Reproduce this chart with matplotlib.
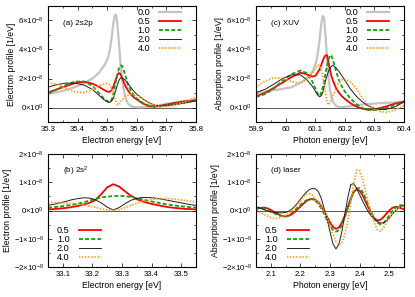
import numpy as np
import matplotlib
matplotlib.use('Agg')
import matplotlib.pyplot as plt
from matplotlib.ticker import MultipleLocator, AutoMinorLocator, FuncFormatter

plt.rcParams['font.family'] = ['Liberation Sans', 'DejaVu Sans']
plt.rcParams['mathtext.fontset'] = 'custom'
plt.rcParams['mathtext.rm'] = 'Liberation Sans'
plt.rcParams['mathtext.it'] = 'Liberation Sans:italic'
plt.rcParams['font.size'] = 5.5

# all profiles in units of 1e-8 1/eV
labels_top = ['0.0', '0.5', '1.0', '2.0', '4.0']
labels_bot = ['0.5', '1.0', '2.0', '4.0']

# (a) 2s2p electron profile
a_x = [35.30, 35.33, 35.36, 35.39, 35.42, 35.45, 35.47, 35.49, 35.50, 35.505, 35.51, 35.515,
       35.52, 35.525, 35.53, 35.535, 35.54, 35.545, 35.55, 35.555, 35.56, 35.565, 35.57, 35.58,
       35.59, 35.60, 35.62, 35.64, 35.66, 35.68, 35.70, 35.73, 35.76, 35.80]
a_00 = [0.95, 1.05, 1.2, 1.4, 1.65, 2.0, 2.35, 2.9, 3.3, 3.6, 4.1, 4.8,
        5.7, 6.3, 6.4, 5.6, 4.4, 3.0, 2.0, 1.35, 0.85, 0.5, 0.28, 0.1,
        0.04, 0.02, 0.02, 0.05, 0.1, 0.17, 0.25, 0.35, 0.45, 0.55]
a_05 = [1.03, 1.25, 1.47, 1.68, 1.78, 1.65, 1.45, 1.2, 1.1, 1.08, 1.1, 1.2,
        1.4, 1.7, 2.0, 2.25, 2.38, 2.3, 2.05, 1.8, 1.55, 1.35, 1.18, 0.9,
        0.7, 0.55, 0.28, 0.1, 0.06, 0.12, 0.2, 0.32, 0.42, 0.5]
a_10 = [0.96, 1.25, 1.55, 1.78, 1.8, 1.5, 1.05, 0.58, 0.45, 0.39, 0.38, 0.55,
        0.85, 1.35, 1.9, 2.35, 2.7, 2.9, 2.88, 2.6, 2.3, 1.95, 1.6, 1.15,
        0.85, 0.62, 0.32, 0.14, 0.05, 0.08, 0.15, 0.25, 0.36, 0.5]
a_20 = [1.41, 1.58, 1.68, 1.68, 1.56, 1.25, 0.88, 0.52, 0.4, 0.35, 0.36, 0.45,
        0.62, 0.9, 1.25, 1.6, 1.88, 2.03, 2.05, 1.98, 1.9, 1.8, 1.65, 1.38,
        1.12, 0.92, 0.6, 0.33, 0.16, 0.1, 0.12, 0.2, 0.3, 0.45]
a_40 = [1.72, 1.6, 1.32, 1.08, 1.03, 1.25, 1.48, 1.63, 1.67, 1.62, 1.5, 1.32,
        1.05, 0.73, 0.42, 0.18, 0.2, 0.38, 0.52, 0.63, 0.73, 0.8, 0.85, 0.9,
        0.9, 0.85, 0.6, 0.35, 0.16, 0.06, 0.07, 0.19, 0.35, 0.7]

# (c) XUV absorption profile
c_x = [59.90, 59.93, 59.96, 59.99, 60.02, 60.05, 60.07, 60.09, 60.10, 60.105, 60.11, 60.115,
       60.12, 60.125, 60.13, 60.135, 60.14, 60.145, 60.15, 60.155, 60.16, 60.17, 60.18, 60.19,
       60.20, 60.22, 60.24, 60.26, 60.28, 60.30, 60.32, 60.34, 60.37, 60.40]
c_00 = [1.03, 1.1, 1.2, 1.28, 1.4, 1.7, 2.0, 2.45, 2.9, 3.3, 3.9, 4.7,
        5.7, 6.3, 6.2, 4.9, 3.4, 2.1, 1.2, 0.75, 0.4, 0.12, 0.04, 0.03,
        0.05, 0.1, 0.15, 0.2, 0.24, 0.27, 0.3, 0.32, 0.35, 0.38]
c_05 = [0.78, 1.0, 1.35, 1.72, 2.1, 2.4, 2.3, 2.13, 2.18, 2.3, 2.48, 2.65,
        2.9, 3.2, 3.45, 3.6, 3.6, 3.1, 2.6, 2.15, 1.85, 1.35, 1.03, 0.78,
        0.6, 0.28, 0.06, -0.09, -0.15, -0.13, -0.03, 0.08, 0.27, 0.42]
c_10 = [0.73, 0.92, 1.3, 1.85, 2.3, 2.55, 2.38, 1.8, 1.35, 1.1, 0.88, 0.8,
        1.0, 1.35, 1.8, 2.35, 2.9, 3.3, 3.62, 3.55, 3.25, 2.55, 1.9, 1.45,
        1.1, 0.6, 0.22, -0.05, -0.17, -0.18, -0.12, -0.02, 0.18, 0.42]
c_20 = [1.03, 1.25, 1.6, 2.0, 2.25, 2.25, 1.95, 1.48, 1.15, 0.95, 0.82, 0.74,
        0.8, 1.0, 1.4, 1.85, 2.2, 2.5, 2.7, 2.85, 2.9, 2.75, 2.5, 2.2,
        1.88, 1.25, 0.75, 0.38, 0.1, -0.05, -0.15, -0.13, 0.05, 0.38]
c_40 = [1.37, 1.82, 2.05, 2.02, 1.78, 1.67, 1.9, 2.35, 2.65, 2.82, 2.92, 2.9,
        2.6, 2.2, 1.6, 0.95, 0.35, 0.18, 0.35, 0.6, 0.85, 1.3, 1.72, 1.92,
        1.98, 1.75, 1.28, 0.62, 0.18, -0.12, -0.28, -0.33, -0.18, 0.14]

# (b) 2s^2 electron profile
b_x = [33.05, 33.07, 33.09, 33.11, 33.13, 33.15, 33.17, 33.19, 33.21, 33.23, 33.25, 33.27, 33.29,
       33.31, 33.33, 33.35, 33.37, 33.39, 33.41, 33.43, 33.45, 33.47, 33.49, 33.51, 33.53, 33.55]
b_05 = [0.04, 0.05, 0.07, 0.09, 0.12, 0.16, 0.21, 0.27, 0.37, 0.58, 0.82, 0.93, 0.85,
        0.68, 0.52, 0.4, 0.32, 0.26, 0.21, 0.17, 0.13, 0.1, 0.08, 0.06, 0.05, 0.04]
b_10 = [0.1, 0.12, 0.14, 0.17, 0.2, 0.24, 0.29, 0.35, 0.41, 0.46, 0.49, 0.51, 0.52,
        0.51, 0.48, 0.44, 0.39, 0.34, 0.3, 0.26, 0.22, 0.19, 0.16, 0.14, 0.12, 0.1]
b_20 = [0.18, 0.22, 0.27, 0.32, 0.38, 0.42, 0.45, 0.44, 0.38, 0.27, 0.12, 0.02, 0.1,
        0.24, 0.36, 0.43, 0.46, 0.46, 0.44, 0.41, 0.37, 0.33, 0.29, 0.25, 0.21, 0.18]
b_40 = [0.28, 0.28, 0.28, 0.27, 0.25, 0.23, 0.2, 0.16, 0.11, 0.06, 0.02, 0.0, 0.03,
        0.1, 0.18, 0.26, 0.33, 0.38, 0.41, 0.42, 0.42, 0.41, 0.39, 0.36, 0.33, 0.3]

# (d) laser absorption profile
d_x = [2.05, 2.06, 2.07, 2.08, 2.09, 2.10, 2.11, 2.12, 2.13, 2.14, 2.15, 2.16, 2.17, 2.18, 2.19,
       2.20, 2.21, 2.22, 2.23, 2.24, 2.25, 2.26, 2.27, 2.28, 2.29, 2.30, 2.31, 2.32, 2.33, 2.34,
       2.35, 2.36, 2.37, 2.38, 2.39, 2.40, 2.41, 2.42, 2.43, 2.44, 2.45, 2.46, 2.47, 2.48, 2.49,
       2.50, 2.51, 2.52, 2.53, 2.54, 2.55]
d_05 = [0.05, 0.08, 0.1, 0.1, 0.07, 0.02, -0.04, -0.1, -0.16, -0.2, -0.21, -0.19, -0.14, -0.06, 0.04,
        0.14, 0.24, 0.33, 0.39, 0.41, 0.38, 0.3, 0.16, -0.02, -0.22, -0.42, -0.58, -0.65, -0.6, -0.43,
        -0.18, 0.12, 0.42, 0.66, 0.75, 0.7, 0.54, 0.32, 0.09, -0.12, -0.28, -0.35, -0.33, -0.24, -0.12,
        0.0, 0.09, 0.13, 0.12, 0.08, 0.04]
d_10 = [0.1, 0.1, 0.08, 0.05, 0.01, -0.04, -0.09, -0.14, -0.18, -0.21, -0.21, -0.17, -0.1, -0.01, 0.1,
        0.2, 0.29, 0.36, 0.4, 0.4, 0.35, 0.24, 0.08, -0.12, -0.34, -0.54, -0.69, -0.75, -0.7, -0.52,
        -0.24, 0.08, 0.4, 0.65, 0.79, 0.79, 0.66, 0.44, 0.18, -0.08, -0.29, -0.43, -0.49, -0.45, -0.34,
        -0.18, -0.03, 0.09, 0.17, 0.19, 0.17]
d_20 = [0.12, 0.1, 0.06, 0.02, -0.02, -0.05, -0.07, -0.08, -0.08, -0.08, -0.07, -0.03, 0.04, 0.14, 0.26,
        0.4, 0.53, 0.65, 0.74, 0.78, 0.77, 0.68, 0.45, 0.08, -0.3, -0.75, -1.18, -1.36, -1.2, -0.75,
        -0.15, 0.45, 0.92, 0.95, 0.78, 0.56, 0.34, 0.13, -0.06, -0.2, -0.31, -0.39, -0.44, -0.44, -0.38,
        -0.27, -0.14, -0.02, 0.08, 0.15, 0.17]
d_40 = [0.0, -0.05, -0.1, -0.15, -0.2, -0.25, -0.28, -0.28, -0.26, -0.22, -0.17, -0.11, -0.02, 0.09, 0.2,
        0.33, 0.47, 0.58, 0.6, 0.55, 0.4, 0.28, 0.14, -0.02, -0.25, -0.55, -0.85, -1.1, -1.22, -1.15,
        -0.85, -0.35, 0.25, 0.95, 1.42, 1.42, 1.1, 0.68, 0.25, -0.12, -0.45, -0.68, -0.73, -0.62, -0.45,
        -0.27, -0.12, -0.01, 0.08, 0.13, 0.15]

styles = {
    '0.0': dict(color='#c4c4c4', lw=1.6, ls='-'),
    '0.5': dict(color='#ff0000', lw=1.3, ls='-'),
    '1.0': dict(color='#10a010', lw=1.3, ls=(0, (2.2, 1.2))),
    '2.0': dict(color='#202020', lw=0.7, ls='-'),
    '4.0': dict(color='#ffa020', lw=1.3, ls=(0, (0.8, 0.9))),
}


def sci(v, pos):
    if abs(v) < 1e-20:
        return r'$0{\times}10^{0}$'
    e = int(np.floor(np.log10(abs(v)) + 1e-9))
    m = v / 10.0**e
    return r'${:g}{{\times}}10^{{{}}}$'.format(round(m, 3), e)


def draw_panel(rect, x, ys, labels, xlim, ylim, xmaj, ymaj, xlabel, ylabel, tag, legloc, legbbox):
    ax = fig.add_axes(rect)
    ax.axhline(0, color='#404040', lw=0.6, zorder=1)
    for y, lab in zip(ys, labels):
        ax.plot(x, np.array(y) * 1e-8, label=lab, zorder=2, **styles[lab])
    ax.set_xlim(*xlim)
    ax.set_ylim(*ylim)
    ax.xaxis.set_major_locator(MultipleLocator(xmaj))
    ax.yaxis.set_major_locator(MultipleLocator(ymaj))
    ax.xaxis.set_minor_locator(AutoMinorLocator(2))
    ax.yaxis.set_minor_locator(AutoMinorLocator(2))
    ax.xaxis.set_major_formatter(FuncFormatter(lambda v, p: '{:g}'.format(round(v, 3))))
    ax.yaxis.set_major_formatter(FuncFormatter(sci))
    ax.tick_params(which='both', direction='in', top=True, right=True, width=0.5, labelsize=5.6, pad=3)
    ax.tick_params(which='major', length=3)
    ax.tick_params(which='minor', length=1.5)
    for s in ax.spines.values():
        s.set_linewidth(0.8)
    ax.set_xlabel(xlabel, fontsize=6.2, labelpad=2)
    ax.set_ylabel(ylabel, fontsize=6.2, labelpad=1.5)
    ax.text(0.1, 0.85, tag, transform=ax.transAxes, fontsize=5.8, va='center', ha='left')
    ax.legend(loc=legloc, bbox_to_anchor=legbbox, frameon=False, markerfirst=False,
              fontsize=6.6, handlelength=2.4, handletextpad=1.0, labelspacing=0.0,
              borderpad=0.0, borderaxespad=0.0)
    return ax


fig = plt.figure(figsize=(4.15, 2.97), dpi=100)
W, H = 415.0, 297.0


def rect(x0, x1, y0, y1):
    return [x0 / W, 1 - y1 / H, (x1 - x0) / W, (y1 - y0) / H]


draw_panel(rect(48, 196, 6, 122), a_x, [a_00, a_05, a_10, a_20, a_40], labels_top,
           (35.3, 35.8), (-1e-8, 7e-8), 0.1, 2e-8, 'Electron energy [eV]',
           'Electron profile [1/eV]', '(a) 2s2p', 'upper right', (0.9, 0.98))
draw_panel(rect(256, 404, 6, 122), c_x, [c_00, c_05, c_10, c_20, c_40], labels_top,
           (59.9, 60.4), (-1e-8, 7e-8), 0.1, 2e-8, 'Photon energy [eV]',
           'Absorption profile [1/eV]', '(c) XUV', 'upper right', (0.9, 0.98))
draw_panel(rect(48, 196, 154, 267), b_x, [b_05, b_10, b_20, b_40], labels_bot,
           (33.05, 33.55), (-2e-8, 2e-8), 0.1, 1e-8, 'Electron energy [eV]',
           'Electron profile [1/eV]', r'(b) 2s$^2$', 'lower left', (0.06, 0.04))
draw_panel(rect(256, 404, 154, 267), d_x, [d_05, d_10, d_20, d_40], labels_bot,
           (2.05, 2.55), (-2e-8, 2e-8), 0.1, 1e-8, 'Photon energy [eV]',
           'Absorption profile [1/eV]', '(d) laser', 'lower left', (0.06, 0.04))

fig.savefig('out.png', dpi=100)
